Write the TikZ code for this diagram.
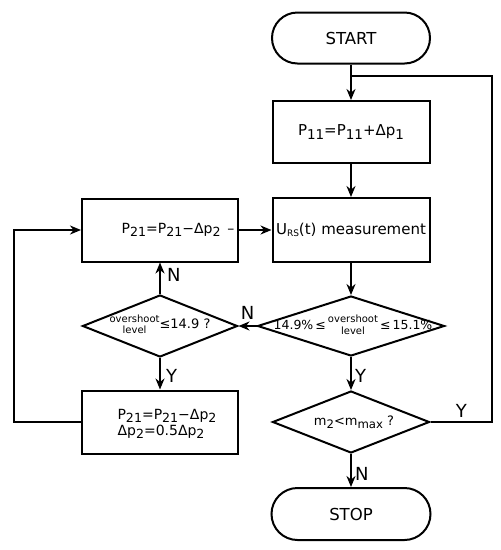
\documentclass[tikz,border=0pt]{standalone}
\usepackage{graphicx}
\usepackage{fontspec}
\setmainfont{DejaVu Sans}
\usetikzlibrary{shapes.geometric,shapes.misc,arrows.meta}
\newcommand{\fsz}[1]{\fontsize{#1pt}{#1pt}\selectfont}
\newcommand{\lowr}[1]{\raisebox{-0.4ex}{\scalebox{0.9}{#1}}}
\newcommand{\smlsub}[1]{\raisebox{-0.3ex}{\scalebox{0.6}{#1}}}
\begin{document}
\begin{tikzpicture}[x=1pt,y=-1pt,line width=2pt,
  box/.style={draw,rectangle,inner sep=0pt},
  term/.style={draw,rounded rectangle,inner sep=0pt,minimum width=158pt,minimum height=51pt},
  dec/.style={draw,diamond,inner sep=0pt},
  txt/.style={inner sep=0pt,align=center},
  lbl/.style={inner sep=0pt,font=\fsz{18}},
  arr/.style={-{Stealth[length=11pt,width=9pt,inset=3.5pt]}}]
\useasboundingbox (0,0) rectangle (501,550);
% main column
\node[term] (start) at (351,38) {};
\node[txt,font=\fsz{16.5}] (startt) at (start) {START};
\node[box,minimum width=157pt,minimum height=62pt] (b1) at (351,132) {};
\node[txt,font=\fsz{15}] (b1t) at (b1) {P\lowr{11}=P\lowr{11}+Δp\lowr{1}};
\node[box,minimum width=157pt,minimum height=64pt] (urs) at (351,230) {};
\node[txt,font=\fsz{15}] (urst) at (urs) {U\smlsub{RS}(t) measurement};
\node[dec,minimum width=187pt,minimum height=60pt] (d1) at (351,326) {};
\node[txt] (d1t) at (353,326) {\fsz{12.5}14.9\%\,≤\,\begin{tabular}[c]{@{}c@{}}\fsz{10}overshoot\\[-1pt]\fsz{10}level\end{tabular}\,\fsz{12.5}≤\,15.1\%};
\node[dec,minimum width=157pt,minimum height=62pt] (d2) at (351,422) {};
\node[txt,font=\fsz{13}] (d2t) at (354,422) {m\lowr{2}<m\lowr{max} ?};
\node[term,minimum width=159pt,minimum height=52pt] (stop) at (351,514) {};
\node[txt,font=\fsz{16.5}] (stopt) at (stop) {STOP};
% left column
\node[box,minimum width=156pt,minimum height=63pt] (p21) at (160,230) {};
\node[txt,font=\fsz{14}] (p21t) at (178,230) {P\lowr{21}=P\lowr{21}−Δp\lowr{2} \,–};
\node[dec,minimum width=155pt,minimum height=62pt] (d3) at (160,326) {};
\node[txt] (d3t) at (160,326) {\begin{tabular}[c]{@{}c@{}}\fsz{10}overshoot\\[-1pt]\fsz{10}level\end{tabular}\fsz{13}≤14.9 ?};
\node[box,minimum width=156pt,minimum height=63pt] (p21b) at (160,422) {};
\node[txt,font=\fsz{14},align=left] (p21bt) at (167,424) {P\lowr{21}=P\lowr{21}−Δp\lowr{2}\\[2pt]Δp\lowr{2}=0.5Δp\lowr{2}};
% helper coordinates
\coordinate (jn) at (351,76);
\coordinate (rx) at (492,0);
\coordinate (lx) at (14,0);
% connectors
\draw[arr] (start) -- (b1);
\draw[arr] (b1) -- (urs);
\draw[arr] (urs) -- (d1);
\draw[arr] (d1) -- node[lbl,right,xshift=3pt,yshift=-2pt]{Y} (d2);
\draw[arr] (d2) -- node[lbl,right,xshift=3pt,yshift=-3pt]{N} (stop);
\draw[arr] (d1.west) -- node[lbl,above,yshift=6pt]{N} (d3.east);
\draw[arr] (d3) -- node[lbl,right,xshift=6pt,yshift=3pt]{N} (p21);
\draw[arr] (d3) -- node[lbl,right,xshift=5pt,yshift=-2pt]{Y} (p21b);
\draw[arr] (p21) -- (urs);
\draw[arr] (p21b.west) -- (p21b.west -| lx) |- (p21.west);
\draw (d2.east) -- node[lbl,above,yshift=4pt]{Y} (d2.east -| rx) |- (jn);
\end{tikzpicture}
\end{document}
